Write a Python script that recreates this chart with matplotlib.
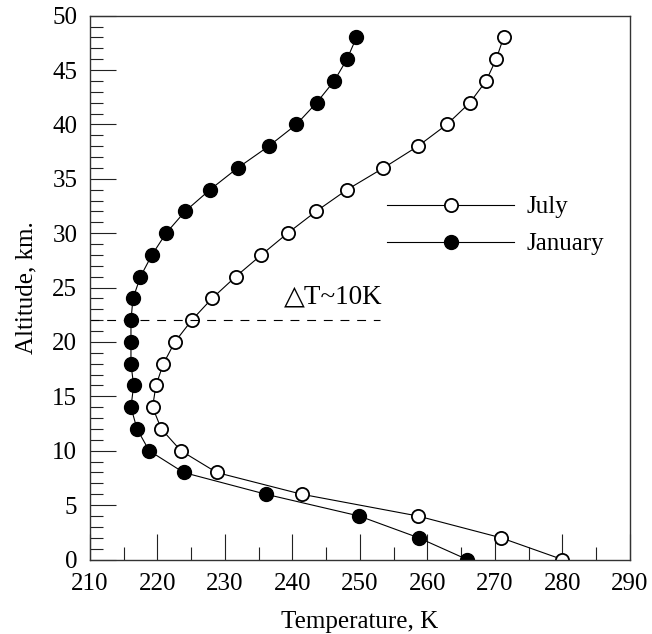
import matplotlib
matplotlib.use("Agg")
import matplotlib.pyplot as plt
from matplotlib.ticker import MultipleLocator

plt.rcParams['font.family'] = ['Liberation Serif', 'DejaVu Serif']
plt.rcParams['mathtext.fontset'] = 'stix'

# Altitude levels (km)
alt_july = [0, 2, 4, 6, 8, 10, 12, 14, 16, 18, 20, 22, 24, 26, 28, 30, 32, 34, 36, 38, 40, 42, 44, 46, 48]
alt_jan = [0, 2, 4, 6, 8, 10, 12, 14, 16, 18, 20, 22, 24, 26, 28, 30, 32, 34, 36, 38, 40, 42, 44, 46, 48]

# Temperature profiles (K)
temp_july = [280.0, 270.9, 258.6, 241.4, 228.8, 223.5, 220.6, 219.3, 219.8, 220.9,
             222.6, 225.1, 228.1, 231.6, 235.4, 239.3, 243.5, 248.1, 253.5, 258.6,
             262.9, 266.3, 268.7, 270.2, 271.3]
temp_jan = [265.9, 258.7, 249.9, 236.1, 223.9, 218.8, 217.0, 216.1, 216.5, 216.1,
            216.1, 216.1, 216.4, 217.5, 219.2, 221.3, 224.1, 227.8, 231.9, 236.5,
            240.6, 243.6, 246.2, 248.1, 249.5]

# Reference level for the temperature difference annotation
ref_alt = 22
ref_t = [210, 253]
note = "\u25B3T~10K"

fig = plt.figure(figsize=(6.52, 6.34), dpi=100)
ax = fig.add_axes([0.1377, 0.1175, 0.8283, 0.8577])

ax.plot(temp_july, alt_july, color='black', lw=0.8, marker='o', ms=9.5,
        mfc='white', mec='black', mew=1.3, label='July')
ax.plot(temp_jan, alt_jan, color='black', lw=0.8, marker='o', ms=10,
        mfc='black', mec='black', mew=1.0, label='January')

ax.plot(ref_t, [ref_alt, ref_alt], color='black', lw=0.8, dashes=(8, 7))
ax.text(238.8, 24.1, note, fontsize=19.5, ha='left', va='center',
        family=['Liberation Serif', 'DejaVu Sans'])

ax.set_xlim(210, 290)
ax.set_ylim(0, 50)
ax.xaxis.set_major_locator(MultipleLocator(10))
ax.xaxis.set_minor_locator(MultipleLocator(5))
ax.yaxis.set_major_locator(MultipleLocator(5))
ax.yaxis.set_minor_locator(MultipleLocator(1))
ax.tick_params(which='both', direction='in', top=False, right=False,
               labelsize=18, width=0.8, color='#222222')
ax.tick_params(which='major', length=19)
ax.tick_params(axis='x', which='major', pad=10)
ax.tick_params(axis='y', which='major', pad=9)
ax.tick_params(which='minor', length=9.5)
for s in ax.spines.values():
    s.set_linewidth(1.0)
    s.set_color('#333333')

ax.set_xlabel('Temperature, K', fontsize=18, labelpad=11)
ax.set_ylabel('Altitude, km.', fontsize=18, labelpad=11)

ax.legend(loc='center left', bbox_to_anchor=(0.55, 0.614), frameon=False,
          fontsize=18, handlelength=5.1, handletextpad=0.5, labelspacing=0.58,
          borderpad=0, borderaxespad=0, markerfirst=True)

fig.savefig('out.png', dpi=100)
